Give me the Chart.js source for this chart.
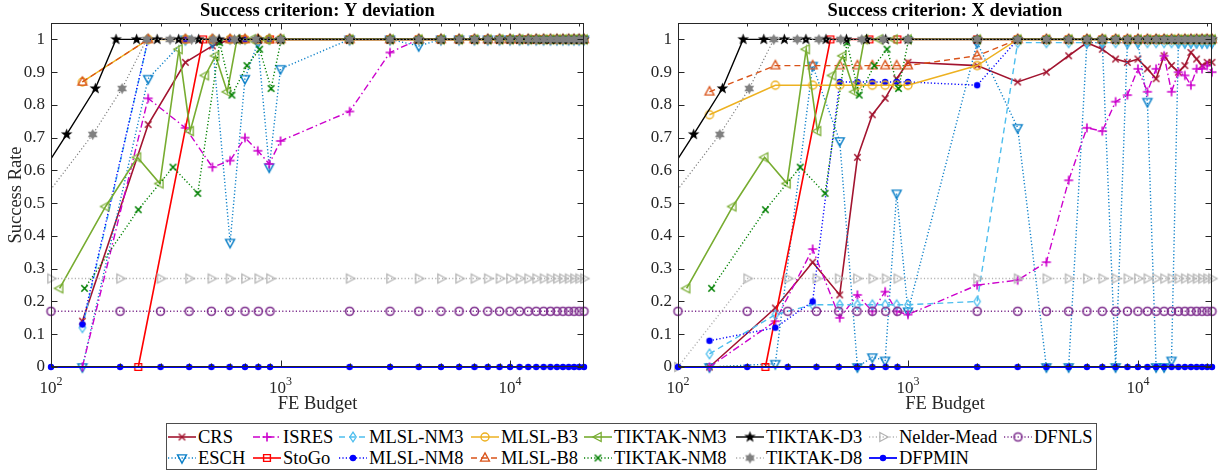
<!DOCTYPE html>
<html>
<head>
<meta charset="utf-8">
<script src="https://cdn.jsdelivr.net/npm/chart.js@4.4.1/dist/chart.umd.min.js"></script>
<style>
  body { margin: 0; background: #fff; width: 1219px; height: 471px; position: relative; overflow: hidden;
         font-family: "Liberation Serif", "Times New Roman", serif; }
  #c1 { position: absolute; left: 0; top: 0; }
  #c2 { position: absolute; left: 610px; top: 0; }
  #legend { position: absolute; left: 166px; top: 423px; width: 931px; height: 47px;
            border: 1px solid #4d4d4d; box-sizing: border-box; background: #fff; }
  .item { position: absolute; height: 16px; display: flex; align-items: center;
          font-size: 18.5px; color: #000; white-space: nowrap; }
  .item canvas { margin-right: 1px; }
</style>
</head>
<body>
<canvas id="c1" width="600" height="418"></canvas>
<canvas id="c2" width="609" height="418"></canvas>
<div id="legend"></div>
<script>
// ---- budgets (function evaluations) ----
const HI = [2000, 3000, 4000, 5000, 6000, 7000, 8000, 9000, 10000, 11000, 12000, 13000, 14000, 15000, 16000, 17000, 18000, 19000, 20000, 21000];
const FE_GRID = [100, 200, 300, 400, 500, 600, 700, 800, 900, ...HI];
const FE_MLSL = [137, 265, 385, 505, 603, 700, 796, 893, 1000, ...HI];
const FE_STOGO = [240, 460, 680, 900, ...HI];
const FE_TNM3 = [109, 173, 238, 298, 361, 404, 470, 521, 586, 646, 750, 870, 1000, ...HI];
const FE_TNM8 = [140, 240, 340, 436, 543, 614, 714, 811, 910, 1007, ...HI];
const FE_TD3 = [80, 117, 156, 192, 236, 290, 360, 440, 540, 660, 800, 1000, ...HI];
const FE_TD8 = [70, 152, 204, 261, 330, 410, 510, 630, 780, 1000, ...HI];

// ---- success rates: Y deviation (left) ----
const Y_CRS = [0.14, 0.74, 0.93, 0.98, 1, 1, 1, 1, 1, 1, 1, 1, 1, 1, 1, 1, 1, 1, 1, 1, 1, 1, 1, 1, 1, 1, 1, 1, 1];
const Y_ISRES = [0, 0.82, 0.73, 0.61, 0.63, 0.70, 0.66, 0.62, 0.69, 0.78, 0.96, 1, 1, 1, 1, 1, 1, 1, 1, 1, 1, 1, 1, 1, 1, 1, 1, 1, 1];
const Y_ESCH = [0, 0.88, 1, 0.99, 0.38, 0.88, 0.99, 0.61, 0.91, 1, 1, 0.98, 1, 1, 1, 1, 1, 1, 1, 1, 1, 1, 1, 1, 1, 1, 1, 1, 1];
const Y_MLSL_NM3 = [0.12, 1, 1, 1, 1, 1, 1, 1, 1, 1, 1, 1, 1, 1, 1, 1, 1, 1, 1, 1, 1, 1, 1, 1, 1, 1, 1, 1, 1];
const Y_MLSL_NM8 = [0.13, 1, 1, 1, 1, 1, 1, 1, 1, 1, 1, 1, 1, 1, 1, 1, 1, 1, 1, 1, 1, 1, 1, 1, 1, 1, 1, 1, 1];
const Y_MLSL_B3 = [0.87, 1, 1, 1, 1, 1, 1, 1, 1, 1, 1, 1, 1, 1, 1, 1, 1, 1, 1, 1, 1, 1, 1, 1, 1, 1, 1, 1, 1];
const Y_MLSL_B8 = [0.87, 1, 1, 1, 1, 1, 1, 1, 1, 1, 1, 1, 1, 1, 1, 1, 1, 1, 1, 1, 1, 1, 1, 1, 1, 1, 1, 1, 1];
const Y_STOGO = [0, 1, 1, 1, 1, 1, 1, 1, 1, 1, 1, 1, 1, 1, 1, 1, 1, 1, 1, 1, 1, 1, 1, 1];
const Y_NM = [0.27, 0.27, 0.27, 0.27, 0.27, 0.27, 0.27, 0.27, 0.27, 0.27, 0.27, 0.27, 0.27, 0.27, 0.27, 0.27, 0.27, 0.27, 0.27, 0.27, 0.27, 0.27, 0.27, 0.27, 0.27, 0.27, 0.27, 0.27, 0.27];

// ---- success rates: X deviation (right) ----
const X_CRS = [0, 0.18, 0.32, 0.22, 0.64, 0.77, 0.82, 0.88, 0.93, 0.92, 0.87, 0.90, 0.95, 0.99, 0.97, 0.94, 0.93, 0.94, 0.91, 0.88, 0.95, 0.92, 0.90, 0.92, 0.96, 0.94, 0.92, 0.93, 0.93];
const X_ISRES = [0, 0.14, 0.36, 0.15, 0.22, 0.17, 0.23, 0.17, 0.16, 0.25, 0.265, 0.32, 0.57, 0.73, 0.72, 0.81, 0.83, 0.91, 0.84, 0.91, 0.95, 0.84, 0.90, 0.89, 0.86, 0.91, 0.91, 0.92, 0.90];
const X_ESCH = [0, 0.01, 0.92, 0.69, 0, 0.03, 0.02, 0.53, 0.17, 0.99, 0.73, 0, 0, 0.99, 0.99, 0, 0.99, 0.99, 0.81, 0, 0, 0.02, 0.99, 0.99, 0.99, 0.99, 0.99, 0.99, 0.99];
const X_MLSL_NM3 = [0.04, 0.16, 0.19, 0.19, 0.19, 0.19, 0.19, 0.19, 0.19, 0.20, 0.99, 0.99, 0.99, 0.99, 0.99, 0.99, 0.99, 0.99, 0.99, 0.99, 0.99, 0.99, 0.99, 0.99, 0.99, 0.99, 0.99, 0.99, 0.99];
const X_MLSL_NM8 = [0.08, 0.12, 0.20, 0.87, 0.87, 0.87, 0.87, 0.87, 0.87, 0.86, 1, 1, 1, 1, 1, 1, 1, 1, 1, 1, 1, 1, 1, 1, 1, 1, 1, 1, 1];
const X_MLSL_B3 = [0.77, 0.86, 0.86, 0.86, 0.86, 0.86, 0.86, 0.86, 0.86, 0.92, 1, 1, 1, 1, 1, 1, 1, 1, 1, 1, 1, 1, 1, 1, 1, 1, 1, 1, 1];
const X_MLSL_B8 = [0.84, 0.92, 0.92, 0.92, 0.92, 0.92, 0.92, 0.92, 0.92, 0.95, 1, 1, 1, 1, 1, 1, 1, 1, 1, 1, 1, 1, 1, 1, 1, 1, 1, 1, 1];
const X_NM = [0, 0.27, 0.27, 0.27, 0.27, 0.27, 0.27, 0.27, 0.27, 0.27, 0.27, 0.27, 0.27, 0.27, 0.27, 0.27, 0.27, 0.27, 0.27, 0.27, 0.27, 0.27, 0.27, 0.27, 0.27, 0.27, 0.27, 0.27, 0.27];

// ---- shared by both panels ----
const R_TNM3 = [0.24, 0.49, 0.64, 0.56, 0.97, 0.72, 0.89, 0.95, 0.84, 1, 1, 1, 1, 1, 1, 1, 1, 1, 1, 1, 1, 1, 1, 1, 1, 1, 1, 1, 1, 1, 1, 1, 1];
const R_TNM8 = [0.24, 0.48, 0.61, 0.53, 0.99, 0.83, 0.92, 0.97, 0.85, 1, 1, 1, 1, 1, 1, 1, 1, 1, 1, 1, 1, 1, 1, 1, 1, 1, 1, 1, 1, 1];
const R_TD3 = [0.53, 0.71, 0.85, 1, 1, 1, 1, 1, 1, 1, 1, 1, 1, 1, 1, 1, 1, 1, 1, 1, 1, 1, 1, 1, 1, 1, 1, 1, 1, 1, 1, 1];
const R_TD8 = [0.40, 0.71, 0.85, 1, 1, 1, 1, 1, 1, 1, 1, 1, 1, 1, 1, 1, 1, 1, 1, 1, 1, 1, 1, 1, 1, 1, 1, 1, 1, 1];
const R_DFNLS = [0.17, 0.17, 0.17, 0.17, 0.17, 0.17, 0.17, 0.17, 0.17, 0.17, 0.17, 0.17, 0.17, 0.17, 0.17, 0.17, 0.17, 0.17, 0.17, 0.17, 0.17, 0.17, 0.17, 0.17, 0.17, 0.17, 0.17, 0.17, 0.17];
const R_DFPMIN = [0, 0, 0, 0, 0, 0, 0, 0, 0, 0, 0, 0, 0, 0, 0, 0, 0, 0, 0, 0, 0, 0, 0, 0, 0, 0, 0, 0, 0];

// ---- axis ticks ----
const X_MAJOR = [100, 1000, 10000];
const X_EXP = ['2', '3', '4'];
const X_MINOR = [200, 300, 400, 500, 600, 700, 800, 900, 2000, 3000, 4000, 5000, 6000, 7000, 8000, 9000, 20000];
const Y_TICKS = [0, 0.1, 0.2, 0.3, 0.4, 0.5, 0.6, 0.7, 0.8, 0.9, 1];

// ---- markers ----
function marker(shape, color, r, lw) {
  const s = Math.ceil(2 * r * 1.4 + 2 * lw + 2);
  const cv = document.createElement('canvas');
  cv.width = s; cv.height = s;
  const g = cv.getContext('2d');
  const c = s / 2;
  g.strokeStyle = color; g.fillStyle = color; g.lineWidth = lw; g.lineJoin = 'miter';
  const poly = (pts) => {
    g.beginPath();
    pts.forEach((p, i) => i ? g.lineTo(c + p[0] * r, c + p[1] * r) : g.moveTo(c + p[0] * r, c + p[1] * r));
    g.closePath();
  };
  const star = (n, ro, ri) => {
    g.beginPath();
    for (let i = 0; i < 2 * n; i++) {
      const a = -Math.PI / 2 + i * Math.PI / n;
      const rr = i % 2 ? ri : ro;
      const px = c + Math.cos(a) * rr * r, py = c + Math.sin(a) * rr * r;
      i ? g.lineTo(px, py) : g.moveTo(px, py);
    }
    g.closePath();
  };
  switch (shape) {
    case 'circle': g.beginPath(); g.arc(c, c, r, 0, 2 * Math.PI); g.stroke(); break;
    case 'dot': g.beginPath(); g.arc(c, c, r * 0.8, 0, 2 * Math.PI); g.fill(); break;
    case 'x': g.beginPath(); g.moveTo(c - r * 0.8, c - r * 0.8); g.lineTo(c + r * 0.8, c + r * 0.8);
      g.moveTo(c + r * 0.8, c - r * 0.8); g.lineTo(c - r * 0.8, c + r * 0.8); g.stroke(); break;
    case 'plus': g.beginPath(); g.moveTo(c - r, c); g.lineTo(c + r, c); g.moveTo(c, c - r); g.lineTo(c, c + r); g.stroke(); break;
    case 'diamond': poly([[0, -1.2], [0.8, 0], [0, 1.2], [-0.8, 0]]); g.stroke(); break;
    case 'square': poly([[-0.85, -0.85], [0.85, -0.85], [0.85, 0.85], [-0.85, 0.85]]); g.stroke(); break;
    case 'up': poly([[0, -1.15], [1, 0.7], [-1, 0.7]]); g.stroke(); break;
    case 'down': poly([[0, 1.15], [1, -0.7], [-1, -0.7]]); g.stroke(); break;
    case 'left': poly([[-1.15, 0], [0.7, -1], [0.7, 1]]); g.stroke(); break;
    case 'right': poly([[1.15, 0], [-0.7, -1], [-0.7, 1]]); g.stroke(); break;
    case 'pent': star(5, 1.35, 0.55); g.fill(); break;
    case 'hex': star(6, 1.25, 0.7); g.fill(); break;
  }
  return cv;
}

const DOT = [1.2, 2.2], DASH = [6, 4], DASHDOT = [7, 3, 1.5, 3];
const STYLE = {
  'CRS':        { color: '#A2142F', dash: [],      width: 1.6, mk: marker('x', '#A2142F', 4, 1.5) },
  'ISRES':      { color: '#CC00CC', dash: DASHDOT, width: 1.4, mk: marker('plus', '#CC00CC', 4.5, 1.6) },
  'MLSL-NM3':   { color: '#4DBEEE', dash: DASH,    width: 1.4, mk: marker('diamond', '#4DBEEE', 4, 1.3) },
  'MLSL-B3':    { color: '#EDB120', dash: [],      width: 1.5, mk: marker('circle', '#EDB120', 4, 1.4) },
  'TIKTAK-NM3': { color: '#77AC30', dash: [],      width: 1.6, mk: marker('left', '#77AC30', 4.5, 1.3) },
  'TIKTAK-D3':  { color: '#000000', dash: [],      width: 1.4, mk: marker('pent', '#000000', 4.5, 1) },
  'Nelder-Mead':{ color: '#B3B3B3', dash: DOT,     width: 1.4, mk: marker('right', '#B3B3B3', 4.5, 1.3) },
  'DFNLS':      { color: '#7E2F8E', dash: DOT,     width: 1.4, mk: marker('circle', '#7E2F8E', 4, 1.6) },
  'ESCH':       { color: '#0A7FC8', dash: DOT,     width: 1.4, mk: marker('down', '#0A7FC8', 4.5, 1.4) },
  'StoGo':      { color: '#FF0000', dash: [],      width: 1.6, mk: marker('square', '#FF0000', 4, 1.4) },
  'MLSL-NM8':   { color: '#0000FF', dash: DOT,     width: 1.4, mk: marker('dot', '#0000FF', 4, 1) },
  'MLSL-B8':    { color: '#D95319', dash: DASH,    width: 1.4, mk: marker('up', '#D95319', 4.5, 1.3) },
  'TIKTAK-NM8': { color: '#008000', dash: DOT,     width: 1.4, mk: marker('x', '#008000', 4, 1.6) },
  'TIKTAK-D8':  { color: '#808080', dash: DOT,     width: 1.2, mk: marker('hex', '#808080', 4.5, 1) },
  'DFPMIN':     { color: '#0000FF', dash: [],      width: 1.8, mk: marker('dot', '#0000FF', 4, 1) }
};

// plotting order (later on top)
const PLOT_ORDER = ['CRS', 'ESCH', 'ISRES', 'StoGo', 'MLSL-NM3', 'MLSL-NM8', 'MLSL-B3', 'MLSL-B8',
  'TIKTAK-NM3', 'TIKTAK-NM8', 'TIKTAK-D3', 'TIKTAK-D8', 'Nelder-Mead', 'DFNLS', 'DFPMIN'];

const LEFT = {
  'CRS': [FE_MLSL, Y_CRS], 'ESCH': [FE_MLSL, Y_ESCH], 'ISRES': [FE_MLSL, Y_ISRES], 'StoGo': [FE_STOGO, Y_STOGO],
  'MLSL-NM3': [FE_MLSL, Y_MLSL_NM3], 'MLSL-NM8': [FE_MLSL, Y_MLSL_NM8], 'MLSL-B3': [FE_MLSL, Y_MLSL_B3], 'MLSL-B8': [FE_MLSL, Y_MLSL_B8],
  'TIKTAK-NM3': [FE_TNM3, R_TNM3], 'TIKTAK-NM8': [FE_TNM8, R_TNM8], 'TIKTAK-D3': [FE_TD3, R_TD3], 'TIKTAK-D8': [FE_TD8, R_TD8],
  'Nelder-Mead': [FE_GRID, Y_NM], 'DFNLS': [FE_GRID, R_DFNLS], 'DFPMIN': [FE_GRID, R_DFPMIN]
};
const RIGHT = {
  'CRS': [FE_MLSL, X_CRS], 'ESCH': [FE_MLSL, X_ESCH], 'ISRES': [FE_MLSL, X_ISRES], 'StoGo': [FE_STOGO, Y_STOGO],
  'MLSL-NM3': [FE_MLSL, X_MLSL_NM3], 'MLSL-NM8': [FE_MLSL, X_MLSL_NM8], 'MLSL-B3': [FE_MLSL, X_MLSL_B3], 'MLSL-B8': [FE_MLSL, X_MLSL_B8],
  'TIKTAK-NM3': [FE_TNM3, R_TNM3], 'TIKTAK-NM8': [FE_TNM8, R_TNM8], 'TIKTAK-D3': [FE_TD3, R_TD3], 'TIKTAK-D8': [FE_TD8, R_TD8],
  'Nelder-Mead': [FE_GRID, X_NM], 'DFNLS': [FE_GRID, R_DFNLS], 'DFPMIN': [FE_GRID, R_DFPMIN]
};

function datasets(panel) {
  return PLOT_ORDER.map((name, i) => {
    const [xs, ys] = panel[name];
    const st = STYLE[name];
    const outside = name === 'TIKTAK-D3' || name === 'TIKTAK-D8';
    return {
      label: name,
      data: xs.map((x, k) => ({ x: x, y: ys[k] })),
      borderColor: st.color,
      backgroundColor: st.color,
      borderWidth: st.width,
      borderDash: st.dash,
      pointStyle: st.mk,
      pointRadius: 4,
      pointHoverRadius: 4,
      tension: 0,
      order: -i,
      clip: { left: outside ? 0 : 10, top: 10, right: 10, bottom: 10 }
    };
  });
}

const FONT = '"Liberation Serif", "Times New Roman", serif';
const AXC = '#262626';

const frame = {
  id: 'frame',
  afterDraw(chart, args, opts) {
    const { ctx, chartArea: a, scales: { x, y } } = chart;
    ctx.save();
    ctx.strokeStyle = AXC; ctx.lineWidth = 1; ctx.setLineDash([]);
    const L = Math.round(a.left) + 0.5, R = Math.round(a.right) - 0.5;
    const T = Math.round(a.top) + 0.5, B = Math.round(a.bottom) - 0.5;
    ctx.strokeRect(L, T, R - L, B - T);
    ctx.beginPath();
    X_MAJOR.forEach(v => { const p = Math.round(x.getPixelForValue(v)) + 0.5;
      ctx.moveTo(p, B); ctx.lineTo(p, B - 6); ctx.moveTo(p, T); ctx.lineTo(p, T + 6); });
    X_MINOR.forEach(v => { const p = Math.round(x.getPixelForValue(v)) + 0.5;
      ctx.moveTo(p, B); ctx.lineTo(p, B - 3); ctx.moveTo(p, T); ctx.lineTo(p, T + 3); });
    Y_TICKS.forEach(v => { const p = Math.round(y.getPixelForValue(v)) + 0.5;
      ctx.moveTo(L, p); ctx.lineTo(L + 6, p); ctx.moveTo(R, p); ctx.lineTo(R - 6, p); });
    ctx.stroke();
    // x tick labels with superscript exponent
    ctx.fillStyle = AXC; ctx.textBaseline = 'alphabetic'; ctx.textAlign = 'left';
    X_MAJOR.forEach((v, i) => {
      const p = x.getPixelForValue(v);
      ctx.font = '17px ' + FONT;
      const w1 = ctx.measureText('10').width;
      ctx.font = '12px ' + FONT;
      const w2 = ctx.measureText(X_EXP[i]).width;
      const x0 = p - (w1 + w2) / 2;
      ctx.font = '17px ' + FONT;
      ctx.fillText('10', x0, a.bottom + 26);
      ctx.font = '12px ' + FONT;
      ctx.fillText(X_EXP[i], x0 + w1, a.bottom + 18);
    });
    // panel title
    ctx.fillStyle = '#000';
    ctx.font = 'bold 18.5px ' + FONT;
    ctx.textAlign = 'center'; ctx.textBaseline = 'middle';
    ctx.fillText(opts.text, (a.left + a.right) / 2, 11);
    ctx.restore();
  }
};

function makeChart(id, panel, title, yWidth, padRight, showYTitle) {
  return new Chart(document.getElementById(id), {
    type: 'line',
    data: { datasets: datasets(panel) },
    plugins: [frame],
    options: {
      responsive: false,
      animation: false,
      events: [],
      layout: { padding: { top: 23, right: padRight, bottom: 0, left: 0 } },
      plugins: {
        legend: { display: false },
        tooltip: { enabled: false },
        title: { display: false },
        frame: { text: title }
      },
      scales: {
        x: {
          type: 'logarithmic',
          min: 100, max: 21000,
          grid: { display: false, drawTicks: false },
          border: { display: false },
          ticks: { display: false },
          afterBuildTicks: (s) => { s.ticks = X_MAJOR.map(v => ({ value: v })); },
          afterFit: (s) => { s.height = 51; s.paddingLeft = 0; s.paddingRight = 0; },
          title: { display: true, text: 'FE Budget', color: AXC, font: { family: FONT, size: 18.5 }, padding: { top: 0, bottom: 3 } }
        },
        y: {
          min: 0, max: 1.05,
          grid: { display: false, drawTicks: false },
          border: { display: false },
          afterBuildTicks: (s) => { s.ticks = Y_TICKS.map(v => ({ value: v })); },
          afterFit: (s) => { s.width = yWidth; s.paddingTop = 0; s.paddingBottom = 0; },
          ticks: {
            color: AXC, padding: 6, font: { family: FONT, size: 17 },
            callback: (v) => (v === 0 ? '0' : v === 1 ? '1' : v.toFixed(1))
          },
          title: { display: showYTitle, text: 'Success Rate', color: AXC, font: { family: FONT, size: 18.5 }, padding: { top: 5.5, bottom: 0 } }
        }
      }
    }
  });
}

makeChart('c1', LEFT, 'Success criterion: Y deviation', 51, 16, true);
makeChart('c2', RIGHT, 'Success criterion: X deviation', 68, 7, false);

// ---- legend (two rows, MATLAB style) ----
const LEGEND_ROWS = [
  ['CRS', 'ISRES', 'MLSL-NM3', 'MLSL-B3', 'TIKTAK-NM3', 'TIKTAK-D3', 'Nelder-Mead', 'DFNLS'],
  ['ESCH', 'StoGo', 'MLSL-NM8', 'MLSL-B8', 'TIKTAK-NM8', 'TIKTAK-D8', 'DFPMIN']
];
const LEGEND_COLS = [0, 85, 171, 303, 416, 568, 701, 836];
const LEGEND_ROW_Y = [5, 26];
const legend = document.getElementById('legend');
LEGEND_ROWS.forEach((row, r) => {
  row.forEach((name, c) => {
    const st = STYLE[name];
    const div = document.createElement('div');
    div.className = 'item';
    div.style.left = LEGEND_COLS[c] + 'px';
    div.style.top = LEGEND_ROW_Y[r] + 'px';
    const cv = document.createElement('canvas');
    cv.width = 30; cv.height = 16;
    const g = cv.getContext('2d');
    g.strokeStyle = st.color; g.lineWidth = st.width; g.setLineDash(st.dash);
    g.beginPath(); g.moveTo(1, 8); g.lineTo(29, 8); g.stroke();
    g.drawImage(st.mk, 15 - st.mk.width / 2, 8 - st.mk.height / 2);
    div.appendChild(cv);
    const span = document.createElement('span');
    span.textContent = name;
    div.appendChild(span);
    legend.appendChild(div);
  });
});
</script>
</body>
</html>
